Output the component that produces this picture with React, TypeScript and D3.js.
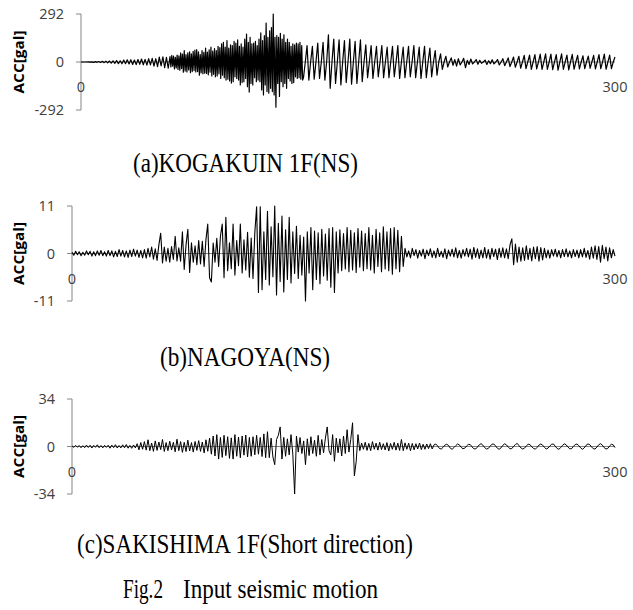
import * as d3 from "d3";

const T_END = 300;

// each trace is kept as sampled pieces: start time (s), step (s), values (gal)
// (a) KOGAKUIN 1F NS
const kogakuinStart = [
  0, 0, 0, 0, 1, -1, 1, -2, 2, -2, 3, -3, 4, -4, 5, -5, 6, -7, 7, -8,
  9, -10, 8, -11, 12, -10, 13, -12, 14, -15, 12, -16, 15, -14, 18, -17, 16, -19, 20, -18,
  22, -25, 20, -28, 30, -24, 32, -35, 28, -38,
];
const kogakuinMain = [
  33, -30, 40, -25, 36, -42, 28, -36, 42, -45,
  38, -50, 55, -40, 48, -62, 70, -55, 45, -60,
  55, -48, 62, -65, 50, -58, 65, -52, 72, -60,
  75, -58, 62, -80, 45, -66, 70, -72, 58, -68,
  85, -70, 60, -78, 74, -62, 90, -85, 66, -75,
  82, -90, 70, -85, 95, -72, 88, -100, 110, -80,
  120, -95, 90, -110, 130, -105, 85, -115, 105, -128,
  100, -120, 125, -90, 115, -100, 134, -110, 95, -140,
  110, -125, 90, -120, 140, -100, 170, -150, 120, -183,
  150, -130, 110, -140, 115, -95, 125, -120, 100, -110,
  140, -120, 177, -170, 130, -200, 160, -140, 237, -180,
  150, -190, 190, -160, 210, -180, 292, -200, 150, -275,
  160, -130, 150, -210, 175, -120, 140, -150, 165, -130,
  120, -160, 140, -100, 120, -115, 95, -130, 110, -125,
  105, -90, 115, -100, 110, -95, 120, -105, 100, -110,
];
const kogakuinTail = [
  -95, 0, 100, -110, 0, 95, -105, 0, 115, -100, 0, 120, -110, 0, 165,
  -160, 0, 140, -130, 0, 135, -140, 0, 130, -125, 0, 140, -135, 0, 125, -130, 0, 135, -120, 0,
  105, -95, 0, 100, -100, 0, 95, -90, 0, 100, -95, 0, 90, -95, 0, 95, -90, 0, 100, -100,
  0, 90, -95, 0, 95, -90, 0, 100, -95, 0, 90, -100, 0, 95, -95, 0, 85, -90, 0, 70,
  -80, 0, 50, -45, 0, 35, -30, 0, 25, -20, 15, -25, 20, -18, 0, 22, -35, 10, -15, 18,
  -12, 0, 15, -14, 10, -8, 0, 12, -15, 8, -10, 14, -12, 0, 15, -18, 0, 20, -22, 0,
  25, -28, 0, 30, -32, 0, 35, -38, 0, 40, -40, 0, 42, -45, 0, 45, -42, 0, 48, -45,
  0, 50, -45, 0, 48, -47, 0, 45, -50, 0, 50, -45, 0, 42, -48, 0, 46, -44, 0, 40,
  -42, 0, 38, -40, 0, 36, -38, 0, 40, -42, 0, 45, -40, 0, 48, -44, 0, 42, -40, 0,
  30,
];

// (b) NAGOYA NS
const nagoyaNS = [
  0.3, -0.4, 0.5, -0.3, 0.4, -0.5, 0.3, -0.4, 0.6, -0.3, 0.5, -0.6, 0.4, -0.5, 0.6, -0.4, 0.7, -0.5, 0.4, -0.6,
  0.7, -0.5, 0.6, -0.8, 0.5, -0.7, 0.9, -0.6, 0.7, -0.8, 0.6, -0.9, 0.8, -0.7, 1.0, -0.6, 0.8, -0.9, 0.7, -1.0,
  0.9, -1.1, 1.2, -0.8, 1.5, -1.3, 1.1, -1.6, 2.0, 4.7, -2.2, 1.5, -1.8, 1.2, -2.0, 1.6, -1.4, 4.0, -1.7, 1.3,
  -1.8, 5.0, -3.7, 2.0, 5.6, -4.4, 2.5, -2.0, 1.8, -2.6, 3.0, -2.4, 2.8, -3.0, 3.2, 6.8, -5.6, -6.6, 2.4, -2.0,
  3.5, -3.0, 4.0, 6.8, -5.6, 8.4, -4.0, 2.5, -3.5, 6.8, -5.0, 3.0, -2.8, 6.8, -4.5, 3.2, -3.8, 4.9, -5.5, 3.6,
  -5.8, 4.8, 10.8, -9.0, 10.8, -8.4, 5.0, -6.0, 9.8, -7.3, 6.2, -5.4, 11.0, -9.6, 7.0, -6.5, 8.7, -8.9, 5.5, -6.0,
  8.4, -6.8, 5.0, -4.6, 6.3, -5.8, 4.2, -5.0, 3.8, -11.0, 5.0, -4.5, 6.0, -8.4, 5.2, -6.0, 4.8, -7.0, 5.6, -5.2,
  4.5, -6.2, 5.8, -7.8, 6.0, -9.0, 5.0, -4.5, 5.5, -4.0, 4.6, -3.6, 6.0, -4.2, 5.4, -3.8, 4.8, -4.4, 5.8, -3.2,
  5.2, -4.0, 4.6, -3.5, 6.0, -3.8, 4.2, -4.5, 5.6, -3.0, 4.8, -4.2, 6.2, -3.6, 5.0, -4.0, 5.8, -4.8, 6.0, -3.5,
  5.4, -4.2, 4.0, -3.0, 1.2, -0.8, 0.6, -1.0, 1.2, -0.5, 0.9, -1.1, 0.7, -0.6, 1.0, -1.2, 0.8, -0.5, 1.1, -0.9,
  0.6, -1.0, 1.2, -0.7, 0.5, -0.9, 1.1, -1.2, 0.8, -0.6, 1.0, -0.8, 1.3, -1.0, 0.7, -1.1, 0.9, -0.6, 1.2, -0.8,
  1.0, -1.3, 1.4, -0.9, 1.1, -1.2, 0.8, -1.0, 1.4, -1.1, 0.9, -1.3, 1.2, -0.7, 1.0, -1.4, 1.2, -0.9, 1.3, -1.0,
  1.1, -1.2, 2.0, 3.4, -2.6, 2.2, -2.0, 1.5, -1.8, 1.3, -1.6, 1.8, -1.4, 1.2, -1.7, 1.5, -1.2, 1.6, -1.8, 1.4,
  -1.5, 1.2, -1.0, 0.8, -1.1, 0.9, -0.6, 1.0, -0.8, 0.7, -1.0, 0.9, -0.7, 1.1, -0.8, 0.6, -1.0, 0.9, -0.7, 0.8,
  -1.0, 0.9, -0.8, 1.2, -0.9, 0.7, -1.3, 1.5, -1.1, 1.8, -1.4, 1.6, -2.0, 1.9, -1.2, 1.5, -1.7, 1.3, -1.0, 0.9,
  -0.6,
];

// (c) SAKISHIMA 1F short direction
const sakishimaShort = [
  0.4, -0.6, 0.8, -0.5, 0.7, -0.9, 0.6, -0.8, 1.0, -0.7, 0.9, -1.1, 0.8, -0.6, 1.2, -0.9, 0.7, -1.0, 0.8, -0.6,
  0.9, -1.2, 1.0, -0.8, 1.3, -1.1, 0.7, -1.0, 1.2, -0.9, 1.4, -1.2, 0.8, -1.3, 1.1, -1.0, 2.0, -2.4, 2.8, -2.0,
  3.5, -2.6, 4.8, -3.0, 2.5, -3.5, 4.0, -2.8, 3.2, -2.2, 5.0, -3.6, 2.8, -3.0, 3.8, -2.5, 3.0, -3.8, 5.2, -3.0,
  3.5, -4.2, 3.0, -3.6, 4.5, -3.2, 2.8, -4.0, 3.6, -2.8, 4.2, -3.5, 3.2, -4.6, 4.8, -3.4, 6.0, -5.5, 7.5, -6.8,
  8.5, -9.0, 6.5, -7.8, 8.0, -6.5, 7.0, -8.5, 6.2, -9.0, 8.5, -7.0, 6.8, -8.0, 7.5, -6.2, 8.2, -7.5, 6.5, -7.0,
  7.0, -6.0, 8.0, -5.5, 6.5, -7.2, 9.0, -8.0, 10.6, -8.0, 6.0, -7.5, -13.0, 5.0, 8.0, 14.0, -9.0, 6.5, -7.0, 5.5,
  -6.0, 8.5, -5.5, -34.0, 7.5, -4.0, 6.4, -5.0, 4.0, -13.0, 5.5, -6.5, 7.0, -5.0, 4.5, -7.0, 8.0, -6.0, 5.0, -4.5,
  6.0, 14.0, -3.0, -6.0, 8.5, -10.6, 6.0, -4.5, 5.5, -6.8, 7.5, -5.0, 12.0, -4.0, 5.0, 17.0, -21.0, -11.0, 8.5, -3.0,
  2.5, -2.0, 3.0, -2.8, 2.2, -3.0, 3.5, -2.0, 2.4, -2.6, 3.0, -2.2, 2.0, -2.5, 2.8, -3.2, 2.2, -2.0, 3.0, -2.6,
  2.4, -2.8, 5.0, -3.0, 2.6, -2.0, 2.4, -3.0, 2.2, -2.4, 2.0, -1.8, 2.5, -2.2, 1.6, -2.0, 1.8, -1.5, 2.0, -1.8,
  1.2, 1.8, 0.4, -1.4, -1.8, -0.6, 1.0, 1.6, 0.8, -1.2, -2.0, -0.8, 0.6, 1.8, 1.2, -0.6, -1.6, -1.2, 0.4, 1.5,
  1.4, -0.2, -1.6, -1.8, -0.4, 1.2, 2.0, 1.0, -0.8, -1.8, -1.4, 0.2, 1.6, 1.8, 0.4, -1.2, -2.0, -1.0, 0.8, 1.9,
  1.2, -0.4, -1.6, -1.5, 0.2, 1.4, 2.2, 0.6, -1.0, -1.8, -1.2, 0.4, 1.6, 1.4, -0.2, -1.4, -1.9, -0.6, 1.0, 1.8,
  1.0, -0.6, -1.8, -1.2, 0.4, 1.6, 1.8, 0.2, -1.4, -2.0, -0.8, 0.8, 1.9, 1.2, -0.4, -1.6, -1.6, 0.0, 1.4, 1.8,
  0.6, -1.0, -2.0, -1.0, 0.8, 1.8, 1.4, -0.2, -1.6, -1.8, -0.4, 1.2, 2.0, 1.0, -0.8, -1.8, -1.4, 0.4, 1.6, 1.2,
  -0.8,
];

const yMax = [292, 11, 34];
const captions = ["(a)KOGAKUIN 1F(NS)", "(b)NAGOYA(NS)", "(c)SAKISHIMA 1F(Short direction)"];
const figNo = "Fig.2";
const figTitle = "Input seismic motion";
const yLabel = "ACC[gal]";
const xTicks = [0, 300];

const series = [
  [
    { start: 0, dt: 1, v: kogakuinStart },
    { start: 50, dt: 0.5, v: kogakuinMain },
    { start: 125, dt: 1, v: kogakuinTail },
  ],
  [{ start: 0, dt: 1, v: nagoyaNS }],
  [{ start: 0, dt: 1, v: sakishimaShort }],
];

// pixel layout of each panel
const panels = [
  { left: 81, top: 14, bottom: 110, sw: 1.2, cap: { x: 133, y: 172, w: 225 } },
  { left: 72, top: 206, bottom: 301, sw: 1.1, cap: { x: 160, y: 366, w: 170 } },
  { left: 72, top: 399, bottom: 494, sw: 1, cap: { x: 77, y: 553, w: 336 } },
];
const RIGHT = 615;
const AXIS = "#868686";
const LABEL = "#404040";
const SANS = "'Open Sans', sans-serif";
const SERIF = "'Liberation Serif', 'Times New Roman', serif";

function Panel({ pieces, max, p, caption }) {
  const x = d3.scaleLinear().domain([0, T_END]).range([p.left, RIGHT]);
  const y = d3.scaleLinear().domain([-max, max]).range([p.bottom, p.top]);
  const pts: [number, number][] = pieces.flatMap((s) =>
    s.v.map((d, i) => [s.start + i * s.dt, d] as [number, number])
  );
  const line = d3
    .line<[number, number]>()
    .x((d) => x(d[0]))
    .y((d) => y(d[1]));
  const yTicks = [max, 0, -max];
  const y0 = y(0);
  const mid = (p.top + p.bottom) / 2;

  return (
    <g>
      <line x1={p.left} x2={p.left} y1={p.top} y2={p.bottom} stroke={AXIS} />
      {yTicks.map((t) => (
        <g key={t}>
          <line x1={p.left - 5} x2={p.left} y1={y(t)} y2={y(t)} stroke={AXIS} />
          <text x={p.left - 17} y={y(t) + 5} textAnchor="end" fontSize={14.5} fill={LABEL} fontFamily={SANS}>
            {t}
          </text>
        </g>
      ))}
      <line x1={p.left} x2={RIGHT} y1={y0} y2={y0} stroke={AXIS} />
      {xTicks.map((t) => (
        <text key={t} x={x(t)} y={y0 + 30} textAnchor="middle" fontSize={14.5} fill={LABEL} fontFamily={SANS}>
          {t}
        </text>
      ))}
      <path d={line(pts)} fill="none" stroke="#000" strokeWidth={p.sw} strokeLinejoin="round" />
      <text
        transform={`translate(24,${mid}) rotate(-90)`}
        textAnchor="middle"
        fontSize={14}
        fontWeight="bold"
        fill="#000"
        fontFamily={SANS}
        textLength={63}
        lengthAdjust="spacingAndGlyphs"
      >
        {yLabel}
      </text>
      <text
        x={p.cap.x}
        y={p.cap.y}
        fontSize={28}
        fontFamily={SERIF}
        fill="#000"
        textLength={p.cap.w}
        lengthAdjust="spacingAndGlyphs"
      >
        {caption}
      </text>
    </g>
  );
}

export default function App() {
  return (
    <svg
      width={633}
      height={610}
      style={{ position: "absolute", left: 0, top: 0, background: "#fff" }}
    >
      {series.map((s, i) => (
        <Panel key={i} pieces={s} max={yMax[i]} p={panels[i]} caption={captions[i]} />
      ))}
      <text x={123} y={598} fontSize={28} fontFamily={SERIF} textLength={40} lengthAdjust="spacingAndGlyphs">
        {figNo}
      </text>
      <text x={183} y={598} fontSize={28} fontFamily={SERIF} textLength={195} lengthAdjust="spacingAndGlyphs">
        {figTitle}
      </text>
    </svg>
  );
}
